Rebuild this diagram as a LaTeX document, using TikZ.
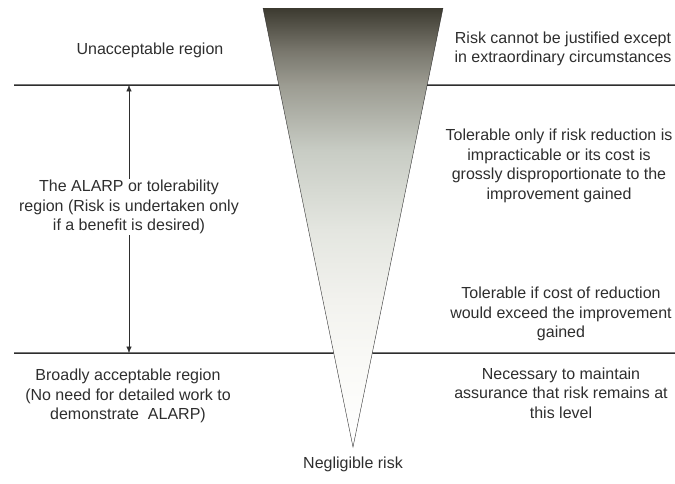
\documentclass[tikz,border=0pt]{standalone}
\usepackage{fontspec}
\setmainfont{Liberation Sans}
\usetikzlibrary{arrows.meta, positioning, calc}

\definecolor{inkgrey}{HTML}{2E2E2E}
\pgfdeclareverticalshading{riskfade}{100bp}{
  color(0bp)=(white);
  color(25bp)=(white);
  color(35bp)=({rgb,255:red,249;green,249;blue,246});
  color(41.7bp)=({rgb,255:red,242;green,242;blue,238});
  color(49.7bp)=({rgb,255:red,228;green,230;blue,224});
  color(58.8bp)=({rgb,255:red,200;green,204;blue,196});
  color(66.2bp)=({rgb,255:red,156;green,156;blue,146});
  color(70bp)=({rgb,255:red,122;green,120;blue,110});
  color(75bp)=({rgb,255:red,60;green,58;blue,48});
  color(100bp)=({rgb,255:red,60;green,58;blue,48})}

\begin{document}
\begin{tikzpicture}[
  x=1pt, y=-1pt,
  txt/.style    = {align=center, font=\fontsize{16}{19.5}\selectfont, text=inkgrey, inner sep=1pt},
  border/.style = {line width=1.5pt, draw=inkgrey},
  arrow/.style  = {thin, draw=inkgrey, -{Latex[length=2.2mm, width=1.8mm]}}
]
  \useasboundingbox (0,0) rectangle (675,483);

  % Risk triangle
  \coordinate (tl) at (263,8);
  \coordinate (tr) at (443,8);
  \coordinate (apex) at (353,447);
  \shade[shading=riskfade] (tl) -- (tr) -- (apex) -- cycle;
  \draw[inkgrey, thin] (tl) -- (apex) -- (tr);

  % Where the borders meet the triangle
  \coordinate (topL) at ($(tl)!0.1754!(apex)$);
  \coordinate (topR) at ($(tr)!0.1754!(apex)$);
  \coordinate (botL) at ($(tl)!0.786!(apex)$);
  \coordinate (botR) at ($(tr)!0.786!(apex)$);
  \coordinate (topW) at (14,85);
  \coordinate (topE) at (675,85);
  \coordinate (botW) at (14,353);
  \coordinate (botE) at (675,353);

  % Region borders
  \draw[border] (topW) -- (topL);
  \draw[border] (topR) -- (topE);
  \draw[border] (botW) -- (botL);
  \draw[border] (botR) -- (botE);

  % Left labels
  \node[txt] (unacc) at (150,50) {Unacceptable region};
  \node[txt] (alarp) at (129,207) {The ALARP or tolerability\\
    region (Risk is undertaken only\\if a benefit is desired)};
  \node[txt] (broad) at (128,396) {Broadly acceptable region\\
    (No need for detailed work to\\demonstrate\ \ ALARP)};

  % Right labels
  \node[txt] (justify) at (563,49) {Risk cannot be justified except\\
    in extraordinary circumstances};
  \node[txt] (impract) at (559,166) {Tolerable only if risk reduction is\\
    impracticable or its cost is\\grossly disproportionate to the\\improvement gained};
  \node[txt] (exceed) at (561,314) {Tolerable if cost of reduction\\
    would exceed the improvement\\gained};
  \node[txt] (maintain) at (561,393) {Necessary to maintain\\
    assurance that risk remains at\\this level};

  % Bottom label
  \node[txt, below=9pt of apex] (neglig) {Negligible risk};

  % ALARP extent
  \draw[arrow] (alarp.north) -- (alarp.north |- topW);
  \draw[arrow] (alarp.south) -- (alarp.south |- botW);

\end{tikzpicture}
\end{document}
